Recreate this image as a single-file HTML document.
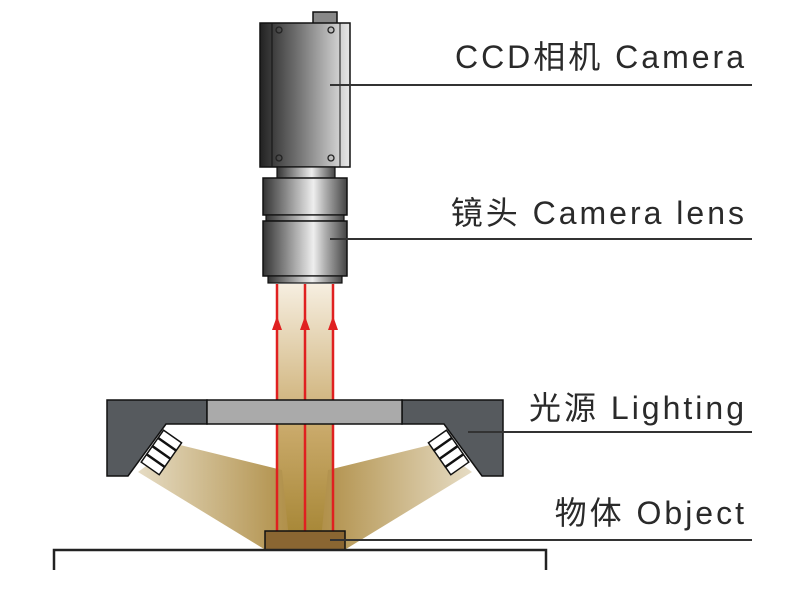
<!DOCTYPE html>
<html><head><meta charset="utf-8"><style>
body{margin:0;background:#fff;}
svg text{font-family:"Liberation Sans","Noto Sans CJK SC",sans-serif;fill:#2a2a2a;}
</style></head><body>
<svg width="800" height="600" viewBox="0 0 800 600" xmlns="http://www.w3.org/2000/svg">
<defs>
<linearGradient id="body" x1="0" x2="1"><stop offset="0" stop-color="#222"/><stop offset="0.45" stop-color="#777"/><stop offset="1" stop-color="#e8e8e8"/></linearGradient>
<linearGradient id="lens" x1="0" x2="1"><stop offset="0" stop-color="#333"/><stop offset="0.6" stop-color="#eee"/><stop offset="0.75" stop-color="#aaa"/><stop offset="1" stop-color="#444"/></linearGradient>
<linearGradient id="beam" x1="0" y1="0" x2="0" y2="1"><stop offset="0" stop-color="#f6eee0"/><stop offset="0.6" stop-color="#c8a868"/><stop offset="1" stop-color="#a88838"/></linearGradient>
<linearGradient id="coneL" x1="0" x2="1"><stop offset="0" stop-color="#e6dcc4"/><stop offset="1" stop-color="#b08f48"/></linearGradient>
<linearGradient id="coneR" x1="1" x2="0"><stop offset="0" stop-color="#e6dcc4"/><stop offset="1" stop-color="#b08f48"/></linearGradient>
</defs>
<rect x="276" y="284" width="58" height="248" fill="url(#beam)"/>
<polygon points="138,472 176,444 282,470 290,549 264,549" fill="url(#coneL)"/>
<polygon points="472,472 434,444 328,470 320,549 346,549" fill="url(#coneR)"/>
<g stroke="#e02020" stroke-width="2.5">
<line x1="277" y1="284" x2="277" y2="531"/><line x1="305" y1="284" x2="305" y2="531"/><line x1="333" y1="284" x2="333" y2="531"/>
</g>
<g fill="#e02020">
<polygon points="277,316 272,330 282,330"/><polygon points="305,316 300,330 310,330"/><polygon points="333,316 328,330 338,330"/>
</g>
<rect x="313" y="12" width="24" height="12" fill="#888" stroke="#111" stroke-width="1.5"/>
<rect x="260" y="23" width="90" height="144" fill="url(#body)" stroke="#111" stroke-width="1.5"/>
<line x1="272" y1="23" x2="272" y2="167" stroke="#111" stroke-width="1"/>
<line x1="340" y1="23" x2="340" y2="167" stroke="#111" stroke-width="1"/>
<g fill="none" stroke="#222" stroke-width="1.3"><circle cx="279" cy="30" r="3"/><circle cx="331" cy="30" r="3"/><circle cx="279" cy="158" r="3"/><circle cx="331" cy="158" r="3"/></g>
<rect x="277" y="167" width="58" height="12" fill="url(#lens)" stroke="#111" stroke-width="1.2"/>
<rect x="263" y="178" width="84" height="37" fill="url(#lens)" stroke="#111" stroke-width="1.5"/>
<rect x="266" y="215" width="78" height="6" fill="url(#lens)" stroke="#111" stroke-width="1.2"/>
<rect x="263" y="221" width="84" height="55" fill="url(#lens)" stroke="#111" stroke-width="1.5"/>
<rect x="268" y="276" width="74" height="7" fill="url(#lens)" stroke="#111" stroke-width="1.2"/>
<polygon points="107,400 207,400 207,424 166,424 128,476 107,476" fill="#565a5e" stroke="#111" stroke-width="1.5"/>
<polygon points="503,400 402,400 402,424 444,424 482,476 503,476" fill="#565a5e" stroke="#111" stroke-width="1.5"/>
<rect x="207" y="400" width="195" height="24" fill="#aaa" stroke="#111" stroke-width="1.5"/>
<g fill="#fff" stroke="#111" stroke-width="1.5">
<g transform="translate(157,450) rotate(35)"><rect x="-6" y="-20" width="22" height="9"/><rect x="-6" y="-10" width="22" height="9"/><rect x="-6" y="0" width="22" height="9"/><rect x="-6" y="10" width="22" height="9"/></g>
<g transform="translate(453,450) rotate(-35)"><rect x="-16" y="-20" width="22" height="9"/><rect x="-16" y="-10" width="22" height="9"/><rect x="-16" y="0" width="22" height="9"/><rect x="-16" y="10" width="22" height="9"/></g>
</g>
<rect x="265" y="531" width="80" height="19" fill="#8a6632" stroke="#111" stroke-width="1.5"/>
<polyline points="54,570 54,550 546,550 546,570" fill="none" stroke="#222" stroke-width="2.5"/>
<g stroke="#333" stroke-width="2">
<line x1="330" y1="85" x2="752" y2="85"/>
<line x1="330" y1="239" x2="752" y2="239"/>
<line x1="468" y1="432" x2="752" y2="432"/>
<line x1="330" y1="540" x2="752" y2="540"/>
</g>
<g font-size="32" text-anchor="end" letter-spacing="3">
<text x="747" y="68">CCD相机 Camera</text>
<text x="747" y="224">镜头 Camera lens</text>
<text x="747" y="419">光源 Lighting</text>
<text x="747" y="524">物体 Object</text>
</g>
</svg>
</body></html>
